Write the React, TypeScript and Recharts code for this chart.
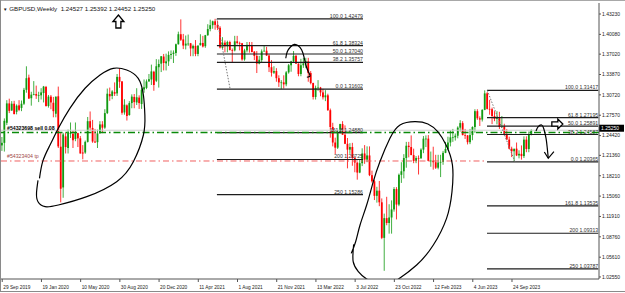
import React from "react";
import { ComposedChart, Bar, Line, XAxis, YAxis, ReferenceLine, ReferenceDot } from "recharts";

// weekly GBPUSD candles, [open, high, low, close], one row per week starting 29 Sep 2019
const ohlc2019 = [
  [1.2290, 1.2420, 1.2205, 1.2330], [1.2330, 1.2708, 1.2195, 1.2670], [1.2640, 1.2990, 1.2605, 1.2940],
  [1.2940, 1.3013, 1.2790, 1.2825], [1.2830, 1.2975, 1.2825, 1.2935], [1.2935, 1.2980, 1.2770, 1.2775],
  [1.2810, 1.2925, 1.2770, 1.2905], [1.2910, 1.2990, 1.2820, 1.2840], [1.2870, 1.2985, 1.2820, 1.2935],
  [1.2935, 1.3180, 1.2915, 1.3150], [1.3150, 1.3514, 1.3105, 1.3330], [1.3340, 1.3385, 1.3010, 1.3015],
  [1.3020, 1.3120, 1.2905, 1.3075], [1.3080, 1.3285, 1.3065, 1.3085],
];

const ohlc2020 = [
  [1.3085, 1.3215, 1.3010, 1.3060], [1.3060, 1.3120, 1.2960, 1.3070], [1.3065, 1.3175, 1.3000, 1.3110],
  [1.3100, 1.3210, 1.2955, 1.3200], [1.3195, 1.3210, 1.2890, 1.2900], [1.2900, 1.3070, 1.2875, 1.3045],
  [1.3045, 1.3070, 1.2850, 1.2955], [1.2950, 1.3040, 1.2725, 1.2820], [1.2780, 1.3045, 1.2725, 1.3045],
  [1.3050, 1.3200, 1.2250, 1.2275], [1.2270, 1.2485, 1.1409, 1.1620], [1.1640, 1.2485, 1.1480, 1.2460],
  [1.2430, 1.2485, 1.2165, 1.2265], [1.2250, 1.2535, 1.2165, 1.2500], [1.2480, 1.2645, 1.2405, 1.2480],
  [1.2470, 1.2515, 1.2250, 1.2370], [1.2390, 1.2645, 1.2355, 1.2490], [1.2480, 1.2485, 1.2265, 1.2400],
  [1.2400, 1.2435, 1.2165, 1.2165], [1.2180, 1.2295, 1.2075, 1.2165], [1.2180, 1.2365, 1.2160, 1.2345],
  [1.2345, 1.2730, 1.2335, 1.2665], [1.2665, 1.2815, 1.2515, 1.2565], [1.2560, 1.2685, 1.2330, 1.2350],
  [1.2350, 1.2545, 1.2330, 1.2335], [1.2340, 1.2535, 1.2250, 1.2475], [1.2480, 1.2665, 1.2470, 1.2615],
  [1.2615, 1.2665, 1.2480, 1.2565], [1.2565, 1.2850, 1.2545, 1.2790], [1.2790, 1.3170, 1.2775, 1.3090],
  [1.3085, 1.3185, 1.2980, 1.3050], [1.3055, 1.3145, 1.3005, 1.3125], [1.3115, 1.3265, 1.3055, 1.3090],
  [1.3095, 1.3395, 1.3055, 1.3350], [1.3350, 1.3482, 1.3180, 1.3275], [1.3280, 1.3285, 1.2765, 1.2795],
  [1.2800, 1.3005, 1.2765, 1.2920], [1.2910, 1.2925, 1.2675, 1.2745], [1.2760, 1.2975, 1.2750, 1.2945],
  [1.2945, 1.3080, 1.2865, 1.3045], [1.3040, 1.3085, 1.2865, 1.2960], [1.2955, 1.3175, 1.2915, 1.3035],
  [1.3030, 1.3065, 1.2855, 1.2945], [1.2930, 1.3175, 1.2855, 1.3150], [1.3155, 1.3310, 1.3105, 1.3190],
  [1.3180, 1.3310, 1.3160, 1.3280], [1.3280, 1.3395, 1.3275, 1.3315], [1.3310, 1.3540, 1.3225, 1.3435],
  [1.3430, 1.3445, 1.3135, 1.3225], [1.3290, 1.3625, 1.3270, 1.3515], [1.3500, 1.3620, 1.3185, 1.3550],
  [1.3555, 1.3670, 1.3425, 1.3670],
];

const ohlc2021 = [
  [1.3665, 1.3705, 1.3450, 1.3565], [1.3560, 1.3710, 1.3450, 1.3590], [1.3590, 1.3745, 1.3520, 1.3690],
  [1.3690, 1.3760, 1.3625, 1.3705], [1.3705, 1.3760, 1.3565, 1.3725], [1.3720, 1.3865, 1.3675, 1.3855],
  [1.3855, 1.4050, 1.3850, 1.4010], [1.4010, 1.4240, 1.3905, 1.3925], [1.3930, 1.4015, 1.3780, 1.3835],
  [1.3835, 1.3990, 1.3775, 1.3865], [1.3865, 1.4005, 1.3830, 1.3865], [1.3870, 1.3875, 1.3670, 1.3790],
  [1.3790, 1.3850, 1.3670, 1.3830], [1.3830, 1.3920, 1.3670, 1.3705], [1.3705, 1.3835, 1.3670, 1.3835],
  [1.3840, 1.4010, 1.3835, 1.3875], [1.3875, 1.3985, 1.3805, 1.3820], [1.3825, 1.4000, 1.3800, 1.3995],
  [1.3995, 1.4165, 1.3985, 1.4090], [1.4090, 1.4235, 1.4055, 1.4150], [1.4150, 1.4220, 1.4095, 1.4210],
  [1.4210, 1.4249, 1.4080, 1.4155], [1.4155, 1.4220, 1.4075, 1.4110], [1.4110, 1.4135, 1.3790, 1.3805],
  [1.3800, 1.3965, 1.3785, 1.3880], [1.3880, 1.3915, 1.3730, 1.3825], [1.3825, 1.3910, 1.3730, 1.3890],
  [1.3890, 1.3910, 1.3760, 1.3765], [1.3765, 1.3790, 1.3570, 1.3760], [1.3760, 1.3985, 1.3745, 1.3900],
  [1.3900, 1.3985, 1.3850, 1.3875], [1.3875, 1.3895, 1.3760, 1.3870], [1.3870, 1.3875, 1.3600, 1.3620],
  [1.3620, 1.3785, 1.3600, 1.3760], [1.3760, 1.3890, 1.3730, 1.3845], [1.3845, 1.3890, 1.3725, 1.3835],
  [1.3835, 1.3890, 1.3730, 1.3735], [1.3740, 1.3750, 1.3610, 1.3675], [1.3675, 1.3750, 1.3410, 1.3555],
  [1.3555, 1.3675, 1.3545, 1.3615], [1.3610, 1.3775, 1.3570, 1.3745], [1.3745, 1.3835, 1.3740, 1.3755],
  [1.3755, 1.3815, 1.3675, 1.3680], [1.3680, 1.3700, 1.3425, 1.3500], [1.3500, 1.3610, 1.3355, 1.3415],
  [1.3415, 1.3515, 1.3395, 1.3440], [1.3440, 1.3485, 1.3275, 1.3330], [1.3330, 1.3375, 1.3195, 1.3265],
  [1.3265, 1.3300, 1.3160, 1.3265], [1.3265, 1.3375, 1.3170, 1.3235], [1.3235, 1.3440, 1.3205, 1.3420],
  [1.3420, 1.3550, 1.3400, 1.3530],
];

const ohlc2022 = [
  [1.3530, 1.3600, 1.3430, 1.3590], [1.3590, 1.3750, 1.3570, 1.3675], [1.3675, 1.3690, 1.3550, 1.3555],
  [1.3555, 1.3560, 1.3360, 1.3395], [1.3395, 1.3630, 1.3360, 1.3530], [1.3530, 1.3645, 1.3490, 1.3560],
  [1.3560, 1.3645, 1.3485, 1.3590], [1.3590, 1.3645, 1.3275, 1.3410], [1.3410, 1.3440, 1.3235, 1.3255],
  [1.3255, 1.3260, 1.3000, 1.3040], [1.3040, 1.3215, 1.3000, 1.3180], [1.3180, 1.3300, 1.3135, 1.3185],
  [1.3185, 1.3195, 1.3050, 1.3110], [1.3110, 1.3165, 1.3000, 1.3035], [1.3035, 1.3145, 1.2975, 1.3065],
  [1.3065, 1.3090, 1.2825, 1.2835], [1.2835, 1.2860, 1.2410, 1.2575], [1.2575, 1.2640, 1.2275, 1.2335],
  [1.2335, 1.2410, 1.2155, 1.2255], [1.2255, 1.2525, 1.2235, 1.2485], [1.2485, 1.2625, 1.2470, 1.2620],
  [1.2620, 1.2665, 1.2455, 1.2455], [1.2455, 1.2600, 1.2310, 1.2315], [1.2315, 1.2405, 1.1935, 1.2225],
  [1.2225, 1.2325, 1.2160, 1.2265], [1.2265, 1.2330, 1.1975, 1.2095], [1.2095, 1.2120, 1.1875, 1.2025],
  [1.2025, 1.2030, 1.1760, 1.1870], [1.1870, 1.2065, 1.1860, 1.2015], [1.2015, 1.2245, 1.1970, 1.2165],
  [1.2165, 1.2295, 1.2005, 1.2070], [1.2070, 1.2275, 1.2030, 1.2135], [1.2135, 1.2275, 1.1815, 1.1830],
  [1.1830, 1.1900, 1.1715, 1.1735], [1.1735, 1.1760, 1.1445, 1.1510], [1.1510, 1.1650, 1.1405, 1.1590],
  [1.1590, 1.1740, 1.1350, 1.1410], [1.1410, 1.1470, 1.0840, 1.0860], [1.0860, 1.1235, 1.0350, 1.1165],
  [1.1165, 1.1495, 1.1055, 1.1090], [1.1090, 1.1380, 1.0925, 1.1175], [1.1175, 1.1440, 1.0925, 1.1300],
  [1.1300, 1.1645, 1.1265, 1.1615], [1.1615, 1.1645, 1.1145, 1.1375], [1.1375, 1.1855, 1.1350, 1.1835],
  [1.1835, 1.2030, 1.1710, 1.1890], [1.1890, 1.2155, 1.1780, 1.2095], [1.2095, 1.2345, 1.1945, 1.2285],
  [1.2285, 1.2345, 1.2105, 1.2265], [1.2265, 1.2445, 1.2140, 1.2140], [1.2140, 1.2240, 1.2015, 1.2050],
  [1.2050, 1.2125, 1.2015, 1.2095],
];

const ohlc2023 = [
  [1.2095, 1.2135, 1.1840, 1.2090], [1.2090, 1.2245, 1.2085, 1.2225], [1.2225, 1.2435, 1.2170, 1.2395],
  [1.2395, 1.2445, 1.2265, 1.2395], [1.2395, 1.2450, 1.2045, 1.2050], [1.2050, 1.2195, 1.1960, 1.2055],
  [1.2055, 1.2270, 1.1915, 1.2030], [1.2030, 1.2145, 1.1925, 1.1945], [1.1945, 1.2145, 1.1920, 1.2025],
  [1.2025, 1.2145, 1.1800, 1.2035], [1.2035, 1.2205, 1.1990, 1.2175], [1.2175, 1.2345, 1.2170, 1.2235],
  [1.2235, 1.2425, 1.2215, 1.2335], [1.2335, 1.2525, 1.2275, 1.2415], [1.2415, 1.2545, 1.2345, 1.2415],
  [1.2415, 1.2475, 1.2365, 1.2440], [1.2440, 1.2585, 1.2400, 1.2565], [1.2565, 1.2680, 1.2505, 1.2635],
  [1.2635, 1.2665, 1.2445, 1.2450], [1.2450, 1.2545, 1.2390, 1.2445], [1.2445, 1.2450, 1.2305, 1.2340],
  [1.2340, 1.2545, 1.2310, 1.2450], [1.2450, 1.2585, 1.2370, 1.2575], [1.2575, 1.2850, 1.2485, 1.2820],
  [1.2820, 1.2850, 1.2685, 1.2710], [1.2710, 1.2740, 1.2590, 1.2690], [1.2690, 1.2850, 1.2660, 1.2840],
  [1.2840, 1.3142, 1.2835, 1.3095], [1.3095, 1.3115, 1.2845, 1.2855], [1.2855, 1.2995, 1.2765, 1.2850],
  [1.2850, 1.2875, 1.2620, 1.2745], [1.2745, 1.2820, 1.2665, 1.2700], [1.2700, 1.2820, 1.2615, 1.2730],
  [1.2730, 1.2810, 1.2545, 1.2575], [1.2575, 1.2745, 1.2560, 1.2585], [1.2585, 1.2625, 1.2445, 1.2465],
  [1.2465, 1.2545, 1.2380, 1.2380], [1.2380, 1.2425, 1.2230, 1.2240], [1.2240, 1.2270, 1.2110, 1.2200],
  [1.2200, 1.2225, 1.2037, 1.2240], [1.2240, 1.2335, 1.2125, 1.2135], [1.2135, 1.2215, 1.2090, 1.2160],
  [1.2160, 1.2290, 1.2070, 1.2125], [1.2125, 1.2430, 1.2095, 1.2380], [1.2380, 1.2430, 1.2185, 1.2235],
  [1.2235, 1.2505, 1.2185, 1.2460], [1.24527, 1.25392, 1.24452, 1.25250],
];

// time axis labels, every 16th week
const weekTickIdx = [0, 16, 32, 48, 64, 80, 96, 112, 128, 144, 160, 176, 192, 208];
const weekTickLabels = [
  "29 Sep 2019", "19 Jan 2020", "10 May 2020", "30 Aug 2020", "20 Dec 2020", "11 Apr 2021", "1 Aug 2021",
  "21 Nov 2021", "13 Mar 2022", "3 Jul 2022", "23 Oct 2022", "12 Feb 2023", "4 Jun 2023", "24 Sep 2023",
];

const priceTicks = [
  1.4323, 1.4008, 1.3702, 1.3387, 1.3072, 1.2757, 1.2442, 1.2136, 1.1821, 1.1506, 1.1191, 1.0876, 1.0561, 1.0255,
];

// fibonacci tools: [level, price]
const fibMayDec2021 = [
  ["100.0", 1.42479], ["61.8", 1.38324], ["50.0", 1.3704], ["38.2", 1.35757],
  ["0.0", 1.31602], ["161.8", 1.2488], ["200", 1.20725], ["250", 1.15286],
];
const fibJulOct2023 = [
  ["100.0", 1.31417], ["61.8", 1.27195], ["50.0", 1.25891], ["38.2", 1.24587],
  ["0.0", 1.20365], ["161.8 ", 1.13535], ["200", 1.09313], ["250", 1.03787],
];

const bidPrice = 1.2525;
const sellOrderPrice = 1.249;
const tpPrice = 1.2049;

// hand drawn markup, as (week slot, price)
const loopLeft = [
  { x: 14.6, p: 1.175 }, { x: 14.0, p: 1.156 }, { x: 14.6, p: 1.1419 }, { x: 17.5, p: 1.1342 },
  { x: 22.9, p: 1.1368 }, { x: 34.5, p: 1.1497 }, { x: 46.7, p: 1.1729 }, { x: 53.5, p: 1.2038 },
  { x: 57.6, p: 1.2451 }, { x: 58.2, p: 1.2761 }, { x: 57.6, p: 1.307 }, { x: 55.5, p: 1.3328 },
  { x: 50.8, p: 1.3457 }, { x: 45.3, p: 1.3483 }, { x: 39.9, p: 1.3379 }, { x: 33.8, p: 1.3174 },
  { x: 27.6, p: 1.2864 }, { x: 22.9, p: 1.2555 }, { x: 19.5, p: 1.2296 }, { x: 16.6, p: 1.205 },
  { x: 15.2, p: 1.178 },
];
const arcMiddle = [
  { x: 115.7, p: 1.3638 }, { x: 116.3, p: 1.374 }, { x: 117.7, p: 1.3817 }, { x: 119.2, p: 1.3854 },
  { x: 120.8, p: 1.3833 }, { x: 122.2, p: 1.3766 }, { x: 123.1, p: 1.3662 }, { x: 123.9, p: 1.3534 },
  { x: 124.9, p: 1.343 }, { x: 125.6, p: 1.3364 }, { x: 124.3, p: 1.3345 },
];
const loopRight = [
  { x: 143.4, p: 1.076 }, { x: 143.2, p: 1.0491 }, { x: 145.3, p: 1.0336 }, { x: 148.7, p: 1.0224 },
  { x: 155.4, p: 1.0131 }, { x: 161.1, p: 1.0208 }, { x: 169.1, p: 1.044 }, { x: 175.9, p: 1.0749 },
  { x: 181.3, p: 1.1162 }, { x: 183.5, p: 1.1569 }, { x: 183.7, p: 1.1987 }, { x: 181.1, p: 1.2296 },
  { x: 177.8, p: 1.2498 }, { x: 173.7, p: 1.2621 }, { x: 168.4, p: 1.2657 }, { x: 162.3, p: 1.2606 },
  { x: 158.2, p: 1.24 }, { x: 154.1, p: 1.2038 }, { x: 151.4, p: 1.1729 }, { x: 148.7, p: 1.1368 },
  { x: 146.0, p: 1.1059 }, { x: 144.2, p: 1.08 }, { x: 142.4, p: 1.062 },
];
const arrowRight = [
  { x: 217.8, p: 1.2513 }, { x: 218.7, p: 1.258 }, { x: 220.1, p: 1.2606 }, { x: 221.0, p: 1.2544 },
  { x: 221.9, p: 1.24 }, { x: 222.4, p: 1.2245 }, { x: 222.8, p: 1.2095 },
];
const arrowRightHead = [{ x: 221.2, p: 1.2188 }, { x: 222.8, p: 1.2091 }, { x: 225.1, p: 1.2193 }];

const FONT = "'Liberation Sans', Arial, sans-serif";
const BULL = "#129a12";
const BEAR = "#ff0000";
const SLOTS = 244; // weeks drawn plus the empty chart shift on the right

const candles = [...ohlc2019, ...ohlc2020, ...ohlc2021, ...ohlc2022, ...ohlc2023];
const chartData = Array.from({ length: SLOTS }, (_, i) => {
  const k = candles[i];
  if (!k) return { i };
  return { i, o: k[0], h: k[1], l: k[2], c: k[3], range: [k[2], k[1]] };
});

const tickLabelByIdx: Record<number, string> = {};
weekTickIdx.forEach((w, k) => {
  tickLabelByIdx[w] = weekTickLabels[k];
});

function Candle(props: any) {
  const { x, y, width, height, payload } = props;
  if (!payload || payload.o == null) return null;
  const { o, h, l, c } = payload;
  const top = Math.min(y, y + height);
  const bottom = Math.max(y, y + height);
  const span = h - l;
  const toY = (p: number) => (span > 0 ? top + ((h - p) / span) * (bottom - top) : top);
  const color = c >= o ? BULL : BEAR;
  const cx = x + width / 2;
  const bodyTop = toY(Math.max(o, c));
  const bodyBot = toY(Math.min(o, c));
  return (
    <g>
      <line x1={cx} x2={cx} y1={top} y2={bottom} stroke={color} strokeWidth={0.8} />
      <rect x={x} y={bodyTop} width={width} height={Math.max(bodyBot - bodyTop, 0.7)} fill={color} />
    </g>
  );
}

const DateTick = ({ x, y, payload }: any) => (
  <text x={x + 1} y={y + 4.5} fontSize={4.8} fill="#222" fontFamily={FONT}>
    {tickLabelByIdx[payload.value] ?? ""}
  </text>
);

const PriceTick = ({ x, y, payload }: any) => (
  <text x={x} y={y + 1.8} fontSize={5} fill="#222" fontFamily={FONT}>
    {Number(payload.value).toFixed(5)}
  </text>
);

const FibLabel = ({ viewBox, text }: any) => {
  if (!viewBox) return null;
  return (
    <text x={viewBox.x + viewBox.width} y={viewBox.y - 1} textAnchor="end" fontSize={5.2} fill="#333" fontFamily={FONT}>
      {text}
    </text>
  );
};

const OrderLabel = ({ viewBox, text, color, bold }: any) => {
  if (!viewBox) return null;
  return (
    <text x={viewBox.x + 6} y={viewBox.y - 2.5} fontSize={5.2} fill={color} fontWeight={bold ? 700 : 400} fontFamily={FONT}>
      {text}
    </text>
  );
};

const BidBox = ({ viewBox }: any) => {
  if (!viewBox) return null;
  const x = viewBox.x + viewBox.width;
  return (
    <g>
      <rect x={x} y={viewBox.y - 5.5} width={25} height={7} fill="#000" />
      <text x={x + 2} y={viewBox.y - 0.2} fontSize={5} fill="#fff" fontFamily={FONT}>
        {bidPrice.toFixed(5)}
      </text>
    </g>
  );
};

const UpArrow = ({ cx, cy }: any) => (
  <polygon
    points={`${cx},${cy - 6.5} ${cx + 5.5},${cy} ${cx + 2.5},${cy} ${cx + 2.5},${cy + 6.5} ${cx - 2.5},${cy + 6.5} ${cx - 2.5},${cy} ${cx - 5.5},${cy}`}
    fill="#fff"
    stroke="#000"
    strokeWidth={1.3}
  />
);

const RightArrow = ({ cx, cy }: any) => (
  <polygon
    points={`${cx + 5.5},${cy} ${cx + 0.5},${cy + 5} ${cx + 0.5},${cy + 2.2} ${cx - 5.5},${cy + 2.2} ${cx - 5.5},${cy - 2.2} ${cx + 0.5},${cy - 2.2} ${cx + 0.5},${cy - 5}`}
    fill="#fff"
    stroke="#000"
    strokeWidth={1.3}
  />
);

function fibLines(levels: any[], from: number, to: number, key: string) {
  return levels.map(([lvl, price]) => (
    <ReferenceLine
      key={key + lvl}
      xAxisId="num"
      segment={[{ x: from, y: price }, { x: to, y: price }]}
      stroke="#1c1c1c"
      strokeWidth={1.2}
      label={<FibLabel text={`${lvl} ${price.toFixed(5)}`} />}
    />
  ));
}

const penLine = (data: any[], key: string, type: any = "natural") => (
  <Line
    key={key}
    data={data}
    xAxisId="num"
    dataKey="p"
    type={type}
    stroke="#000"
    strokeWidth={1.2}
    dot={false}
    activeDot={false}
    isAnimationActive={false}
  />
);

export default function App() {
  return (
    <div style={{ position: "fixed", left: 0, top: 0, width: 625, height: 293, background: "#fff", overflow: "hidden" }}>
      <div style={{ position: "absolute", left: 0, top: 0, width: 625, height: 1, background: "#a8a8a8" }} />
      <div style={{ position: "absolute", left: 0, top: 0, width: 1, height: 291, background: "#8a8a8a" }} />
      <div style={{ position: "absolute", left: 0, top: 291, width: 625, height: 1, background: "#8a8a8a" }} />
      <div style={{ position: "absolute", left: 1, top: 1 }}>
        <ComposedChart width={623} height={290} data={chartData} margin={{ top: 2, right: 0, bottom: 0, left: 0 }}>
          <XAxis
            dataKey="i"
            type="category"
            interval={0}
            ticks={weekTickIdx}
            tick={<DateTick />}
            tickSize={3}
            tickLine={{ stroke: "#555" }}
            axisLine={{ stroke: "#555" }}
            height={12}
          />
          <XAxis xAxisId="num" dataKey="x" type="number" domain={[-0.5, SLOTS - 0.5]} allowDataOverflow hide />
          <YAxis
            orientation="right"
            type="number"
            domain={[1.02235, 1.44932]}
            allowDataOverflow
            ticks={priceTicks}
            interval={0}
            tick={<PriceTick />}
            tickSize={2}
            tickMargin={1}
            width={25}
            tickLine={{ stroke: "#555" }}
            axisLine={{ stroke: "#555" }}
          />

          <ReferenceLine xAxisId="num" y={bidPrice} stroke="#cfcfcf" strokeWidth={1} label={<BidBox />} />

          <Bar dataKey="range" barSize={1.8} shape={(p: any) => <Candle {...p} />} isAnimationActive={false} />

          {fibLines(fibMayDec2021, 87.6, 147.2, "a")}
          {fibLines(fibJulOct2023, 197.8, 243.2, "b")}
          <ReferenceLine
            xAxisId="num"
            segment={[{ x: 87.6, y: 1.42479 }, { x: 93, y: 1.31602 }]}
            stroke="#777"
            strokeDasharray="1.5 1.5"
          />
          <ReferenceLine
            xAxisId="num"
            segment={[{ x: 197.9, y: 1.31417 }, { x: 209.2, y: 1.20365 }]}
            stroke="#777"
            strokeDasharray="1.5 1.5"
          />

          <ReferenceLine
            xAxisId="num"
            y={sellOrderPrice}
            stroke="#0a8a0a"
            strokeWidth={1.4}
            strokeDasharray="7 3 1.5 3"
            label={<OrderLabel text="#54323698 sell 0.08" color="#000" bold />}
          />
          <ReferenceLine
            xAxisId="num"
            segment={[{ x: -0.5, y: tpPrice }, { x: 197.5, y: tpPrice }]}
            stroke="#f06060"
            strokeWidth={1}
            strokeDasharray="6 3 1.5 3"
            label={<OrderLabel text="#54323404 tp" color="#a04848" />}
          />

          {penLine(loopLeft, "loopLeft")}
          {penLine(arcMiddle, "arcMiddle")}
          {penLine(loopRight, "loopRight")}
          {penLine(arrowRight, "arrowRight")}
          {penLine(arrowRightHead, "arrowRightHead", "linear")}

          <ReferenceDot xAxisId="num" x={47.4} y={1.4207} r={1} shape={(p: any) => <UpArrow cx={p.cx} cy={p.cy} />} />
          <ReferenceDot xAxisId="num" x={226.5} y={1.2621} r={1} shape={(p: any) => <RightArrow cx={p.cx} cy={p.cy} />} />
        </ComposedChart>
      </div>
      <div
        style={{
          position: "absolute",
          left: 3,
          top: 5,
          fontFamily: FONT,
          fontSize: 6.2,
          lineHeight: "7px",
          color: "#111",
          whiteSpace: "pre",
        }}
      >
        <span style={{ fontSize: 4.5 }}>▼</span> GBPUSD,Weekly  1.24527 1.25392 1.24452 1.25250
      </div>
    </div>
  );
}
